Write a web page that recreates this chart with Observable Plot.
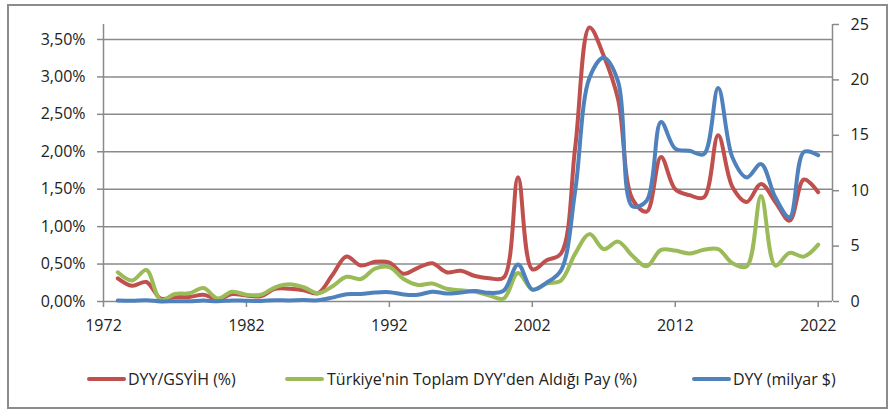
<!DOCTYPE html>
<html>
<head>
<meta charset="utf-8">
<script src="https://cdn.jsdelivr.net/npm/d3@7"></script>
<script src="https://cdn.jsdelivr.net/npm/@observablehq/plot@0.6"></script>
<style>
  html, body { margin: 0; padding: 0; background: #fff; }
  #wrap { position: relative; width: 895px; height: 412px; overflow: hidden; font-family: "Open Sans", sans-serif; }
  #frame { position: absolute; left: 7px; top: 4px; width: 877px; height: 401px; border: 2px solid #8c8c8c; pointer-events: none; }
  #chart { position: absolute; left: 0; top: 0; }
  .lg { position: absolute; top: 369px; font-size: 16px; color: #222; line-height: 20px; white-space: nowrap; }
  .sw { position: absolute; top: 377px; height: 4px; width: 39px; border-radius: 2px; }
</style>
</head>
<body>
<div id="wrap">
  <div id="chart"></div>
  <div id="frame"></div>
</div>
<script>
const years = d3.range(1973, 2023);
const seriesNames = ["DYY/GSYİH (%)", "Türkiye'nin Toplam DYY'den Aldığı Pay (%)", "DYY (milyar $)"];
const seriesColors = ["#C0504D", "#9BBB59", "#4F81BD"];
// DYY/GSYİH (%)
const dyyGdp = [0.31,0.21,0.26,0.04,0.06,0.06,0.09,0.03,0.10,0.08,
                0.07,0.17,0.17,0.15,0.11,0.35,0.60,0.48,0.53,0.52,
                0.37,0.45,0.51,0.39,0.41,0.34,0.31,0.32,1.66,0.43,
                0.55,0.64,2.06,3.66,3.28,2.70,1.37,1.20,1.93,1.50,
                1.42,1.39,2.22,1.53,1.33,1.57,1.33,1.08,1.63,1.46];
// Türkiye'nin Toplam DYY'den Aldığı Pay (%)
const share = [0.39,0.28,0.42,0.02,0.10,0.11,0.18,0.04,0.13,0.09,
               0.09,0.19,0.23,0.19,0.11,0.20,0.33,0.30,0.44,0.46,
               0.30,0.22,0.24,0.17,0.15,0.13,0.08,0.04,0.38,0.16,
               0.24,0.28,0.64,0.90,0.70,0.80,0.61,0.47,0.69,0.68,
               0.64,0.69,0.70,0.51,0.47,1.41,0.48,0.65,0.60,0.76];
// DYY (milyar $)
const fdi = [0.08,0.06,0.11,0.01,0.03,0.03,0.08,0.02,0.10,0.06,
             0.05,0.11,0.10,0.13,0.11,0.35,0.66,0.68,0.81,0.84,
             0.64,0.61,0.89,0.72,0.81,0.94,0.78,0.98,3.35,1.08,
             1.70,2.79,10.0,20.2,22.0,19.85,8.6,9.1,16.2,13.8,
             13.6,13.3,19.26,13.0,11.2,12.4,9.4,7.6,13.5,13.2];
const leftTicks = [0,0.5,1,1.5,2,2.5,3,3.5];
const rightTicks = [0,5,10,15,20,25];
const xTicks = [1972,1982,1992,2002,2012,2022];

const LMAX = 3.7, RMAX = 25, K = LMAX / RMAX;
const rows = [];
years.forEach((yr, i) => {
  rows.push({year: yr, v: dyyGdp[i], s: seriesNames[0]});
  rows.push({year: yr, v: share[i], s: seriesNames[1]});
  rows.push({year: yr, v: fdi[i] * K, s: seriesNames[2]});
});

const gridColor = "#8a8a8a";
const chart = Plot.plot({
  width: 895, height: 345,
  marginLeft: 103, marginRight: 63, marginTop: 24, marginBottom: 44,
  style: {fontFamily: "Open Sans, sans-serif", fontSize: "16px", color: "#222", background: "transparent"},
  x: {domain: [1972, 2023]},
  y: {domain: [0, LMAX]},
  color: {domain: seriesNames, range: seriesColors},
  marks: [
    Plot.gridY(leftTicks.filter(d => d > 0), {stroke: gridColor, strokeOpacity: 1, strokeWidth: 1.5}),
    Plot.ruleX([1972, 2023], {stroke: gridColor, strokeWidth: 1.5}),
    Plot.ruleY([0], {stroke: gridColor, strokeWidth: 1.5}),
    Plot.axisY(leftTicks, {anchor: "left", tickSize: 6, tickPadding: 12, stroke: gridColor, strokeWidth: 1.5,
      tickFormat: d => d.toFixed(2).replace(".", ",") + "%", label: null}),
    Plot.axisY(rightTicks.map(d => d * K), {anchor: "right", tickSize: 6, tickPadding: 12, stroke: gridColor, strokeWidth: 1.5,
      tickFormat: d => String(Math.round(d / K)), label: null}),
    Plot.axisX(xTicks, {anchor: "bottom", tickSize: 6, tickPadding: 12, stroke: gridColor, strokeWidth: 1.5,
      tickFormat: d => String(d), label: null}),
    Plot.lineY(rows, {x: "year", y: "v", z: "s", stroke: "s", strokeWidth: 4, curve: "catmull-rom"})
  ]
});
document.getElementById("chart").appendChild(chart);

// legend
const wrap = document.getElementById("wrap");
const swX = [87, 285, 692];
const txX = [128, 327, 733];
seriesNames.forEach((n, i) => {
  const sw = document.createElement("div");
  sw.className = "sw"; sw.style.left = swX[i] + "px"; sw.style.background = seriesColors[i];
  wrap.appendChild(sw);
  const t = document.createElement("div");
  t.className = "lg"; t.style.left = txX[i] + "px"; t.textContent = n;
  wrap.appendChild(t);
});
</script>
</body>
</html>
